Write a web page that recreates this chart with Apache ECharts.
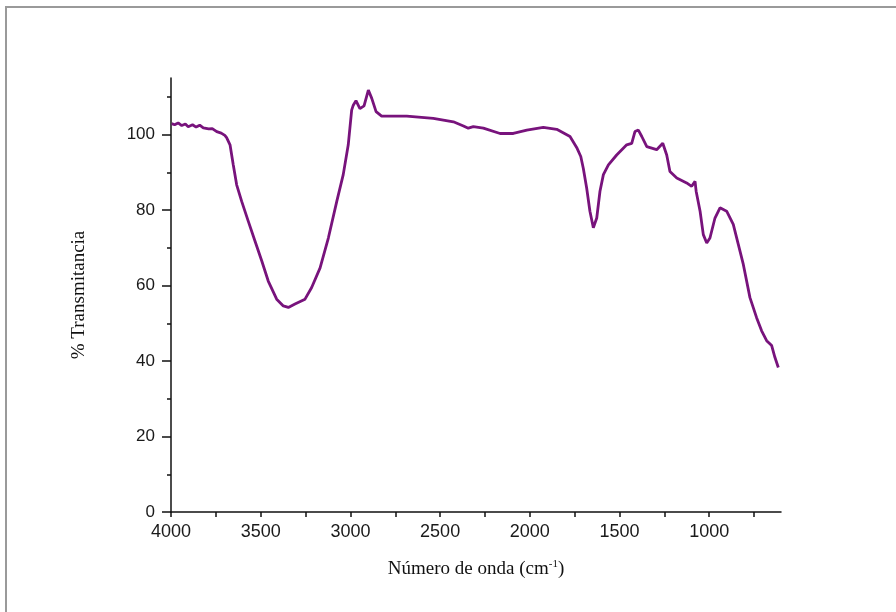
<!DOCTYPE html>
<html>
<head>
<meta charset="utf-8">
<script src="https://cdn.jsdelivr.net/npm/echarts@6/dist/echarts.min.js"></script>
<style>html,body{margin:0;padding:0;background:#fff}#c{width:896px;height:612px}</style>
</head>
<body>
<div id="c"></div>
<script>
var wavenumber = [3996,3980,3960,3940,3920,3904,3880,3860,3840,3820,3810,3790,3770,3745,3720,3700,3690,3671,3653,3634,3606,3569,3532,3494,3458,3411,3374,3346,3309,3253,3216,3169,3123,3076,3040,3012,2993,2984,2969,2947,2924,2900,2881,2857,2826,2686,2538,2426,2370,2343,2315,2259,2166,2092,2017,1925,1850,1776,1739,1716,1702,1683,1665,1646,1627,1609,1590,1562,1516,1460,1432,1414,1395,1376,1348,1293,1259,1237,1219,1181,1126,1098,1079,1073,1051,1033,1014,996,968,940,903,866,838,810,773,736,708,680,652,634,615];
var transmittance = [102.9,102.6,103.1,102.4,102.8,102.1,102.6,102.0,102.5,101.8,101.9,101.5,101.6,100.8,100.4,99.8,99.2,97.3,92.0,86.7,82.3,77.0,71.8,66.5,61.2,56.4,54.6,54.2,55.1,56.4,59.5,64.7,72.6,82.3,89.4,97.3,106.5,107.8,109.0,106.9,107.6,111.8,109.6,106.1,104.9,104.9,104.3,103.4,102.3,101.7,102.1,101.7,100.3,100.3,101.2,101.9,101.4,99.5,96.6,94.2,91.1,85.8,79.7,75.3,77.9,85.0,89.4,92.0,94.6,97.3,97.7,100.8,101.2,99.5,96.8,96.0,97.7,94.6,90.2,88.5,87.2,86.3,87.6,85.0,79.7,73.5,71.3,72.6,77.9,80.6,79.7,76.2,70.9,65.6,56.8,51.5,48.0,45.4,44.1,41.0,38.3];
var xMajorTicks = [4000,3500,3000,2500,2000,1500,1000];
var xAllTicks = [4000,3750,3500,3250,3000,2750,2500,2250,2000,1750,1500,1250,1000,750];
var yMajorTicks = [0,20,40,60,80,100];
var yMinorTicks = [10,30,50,70,90,110];

var data = wavenumber.map(function(w,i){return [w, transmittance[i]];});
var chart = echarts.init(document.getElementById('c'), null, {renderer:'canvas'});
var lab = {color:'#1a1a1a', fontFamily:'Liberation Sans, Arial, sans-serif', fontSize:18};
chart.setOption({
  animation:false,
  backgroundColor:'#fff',
  graphic:[{type:'rect', shape:{x:6,y:7,width:1000,height:1000}, style:{fill:'none', stroke:'#9a9a9a', lineWidth:2}, silent:true, z:-10}],
  grid:{left:171, right:115, top:78, bottom:100, containLabel:false},
  xAxis:[{
    type:'value', min:600, max:4000, inverse:true,
    name:'Número de onda (cm{s|-1})', nameLocation:'middle', nameGap:47,
    nameTextStyle:{fontFamily:'Liberation Serif, Times New Roman, serif', fontSize:19, color:'#111',
      rich:{s:{fontSize:11, fontFamily:'Liberation Serif, serif', color:'#111', verticalAlign:'top', lineHeight:20, padding:[0,0,10,0]}}},
    axisLine:{show:true, onZero:false, lineStyle:{color:'#111', width:1.5}},
    axisTick:{show:true, inside:false, length:5, customValues:xAllTicks, lineStyle:{color:'#111', width:1.5}},
    axisLabel:Object.assign({margin:11, customValues:xMajorTicks, formatter:function(v){return String(v);}}, lab),
    splitLine:{show:false}
  }],
  yAxis:[{
    type:'value', min:0, max:115,
    name:'% Transmitancia', nameLocation:'middle', nameGap:82, nameRotate:90,
    nameTextStyle:{fontFamily:'Liberation Serif, Times New Roman, serif', fontSize:19, color:'#111'},
    axisLine:{show:true, onZero:false, lineStyle:{color:'#111', width:1.5}},
    axisTick:{show:true, inside:false, length:9, customValues:yMajorTicks, lineStyle:{color:'#111', width:1.5}},
    axisLabel:Object.assign({margin:16, customValues:yMajorTicks, formatter:function(v){return String(v);}}, lab, {fontSize:17}),
    splitLine:{show:false}
  },{
    type:'value', min:0, max:115, position:'left', offset:0,
    axisLine:{show:false},
    axisTick:{show:true, inside:false, length:4, customValues:yMinorTicks, lineStyle:{color:'#111', width:1.5}},
    axisLabel:{show:false},
    splitLine:{show:false}
  }],
  series:[{
    type:'line', data:data, xAxisIndex:0, yAxisIndex:0,
    showSymbol:false, symbol:'none', smooth:false,
    lineStyle:{color:'#78137c', width:2.8}
  }]
});
</script>
</body>
</html>
